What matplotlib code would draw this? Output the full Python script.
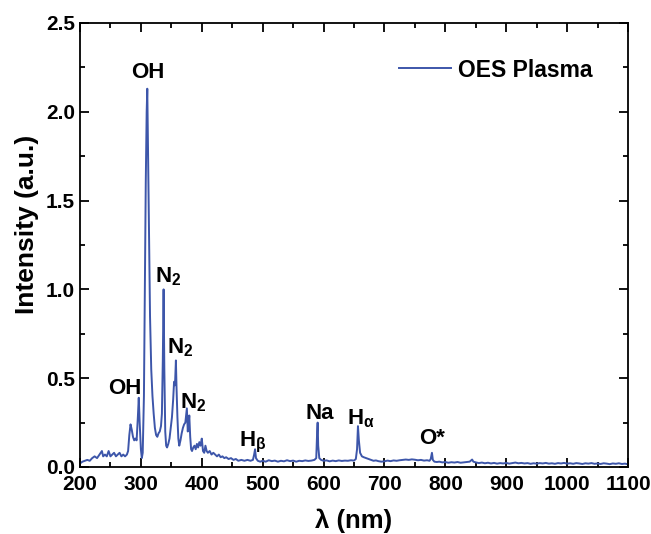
import matplotlib
matplotlib.use("Agg")
import matplotlib.pyplot as plt
from matplotlib.ticker import MultipleLocator

plt.rcParams['font.family'] = ['Liberation Sans', 'DejaVu Sans']
plt.rcParams['font.weight'] = 'bold'
plt.rcParams['mathtext.fontset'] = 'custom'
plt.rcParams['mathtext.rm'] = 'Liberation Sans:bold'
plt.rcParams['mathtext.bf'] = 'Liberation Sans:bold'
plt.rcParams['mathtext.it'] = 'Liberation Sans:bold'

wavelength = [
    200, 204, 208, 212, 216, 220, 224, 228, 232, 236, 238, 241, 244, 247, 250, 253, 256, 259, 262, 265,
    268, 271, 274, 277, 279, 281, 283, 285, 287, 289, 291, 293, 295, 296.5, 298, 300, 301.5, 303, 305, 306.5,
    308, 309.5, 310.5, 311.5, 312.5, 313.5, 315, 317, 319, 321, 323, 325, 327, 329, 331, 333, 334.5, 336, 337.3, 338.5,
    340, 341.5, 343, 345, 347, 349, 351, 353, 354.5, 356, 357.5, 358.5, 360, 361.5, 363, 365, 367, 369, 371, 373,
    374.5, 375.5, 377, 378.5, 379.5, 381, 382.5, 384, 386, 388, 390, 392, 394, 396, 398, 400, 402, 404, 406, 408,
    410, 413, 416, 419, 422, 425, 428, 431, 434, 437, 440, 444, 448, 452, 456, 460, 465, 470, 475, 480,
    484, 486, 487.5, 489, 492, 496, 500, 505, 510, 515, 520, 525, 530, 535, 540, 545, 550, 555, 560, 565,
    570, 575, 580, 585, 588, 589.5, 590.3, 591.2, 593, 596, 600, 605, 610, 615, 620, 625, 630, 635, 640, 645,
    650, 653, 655, 656.5, 658, 660, 663, 666, 670, 674, 678, 682, 686, 690, 695, 700, 705, 710, 715, 720,
    725, 730, 735, 740, 745, 750, 755, 760, 765, 770, 774, 776, 778, 779.5, 782, 786, 790, 795, 800, 805,
    810, 815, 820, 825, 830, 835, 840, 844, 846, 850, 855, 860, 865, 870, 875, 880, 885, 890, 895, 900,
    905, 910, 915, 920, 925, 930, 935, 940, 945, 950, 955, 960, 965, 970, 975, 980, 985, 990, 995, 1000,
    1005, 1010, 1015, 1020, 1025, 1030, 1035, 1040, 1045, 1050, 1055, 1060, 1065, 1070, 1075, 1080, 1085, 1090, 1095, 1100,
]
intensity = [
    0.02, 0.03, 0.035, 0.04, 0.035, 0.05, 0.06, 0.05, 0.07, 0.09, 0.06, 0.07, 0.06, 0.09, 0.06, 0.07, 0.08, 0.06, 0.07, 0.08,
    0.06, 0.07, 0.06, 0.07, 0.09, 0.18, 0.24, 0.21, 0.17, 0.15, 0.16, 0.15, 0.28, 0.39, 0.25, 0.10, 0.05, 0.08, 0.40, 1.00,
    1.60, 2.00, 2.13, 1.85, 1.55, 1.30, 0.85, 0.55, 0.40, 0.30, 0.22, 0.18, 0.17, 0.19, 0.20, 0.23, 0.30, 0.60, 1.00, 0.55,
    0.20, 0.12, 0.11, 0.13, 0.16, 0.22, 0.28, 0.38, 0.48, 0.46, 0.60, 0.45, 0.28, 0.16, 0.12, 0.15, 0.19, 0.22, 0.24, 0.25,
    0.30, 0.33, 0.20, 0.25, 0.29, 0.17, 0.10, 0.09, 0.11, 0.12, 0.10, 0.13, 0.11, 0.14, 0.12, 0.16, 0.09, 0.08, 0.12, 0.09,
    0.08, 0.09, 0.07, 0.08, 0.07, 0.06, 0.07, 0.055, 0.06, 0.05, 0.055, 0.045, 0.05, 0.04, 0.045, 0.035, 0.04, 0.035, 0.04, 0.035,
    0.04, 0.07, 0.10, 0.05, 0.035, 0.03, 0.035, 0.03, 0.038, 0.033, 0.036, 0.03, 0.035, 0.032, 0.038, 0.033, 0.036, 0.03, 0.035, 0.033,
    0.037, 0.034, 0.036, 0.04, 0.05, 0.20, 0.25, 0.12, 0.05, 0.04, 0.035, 0.037, 0.032, 0.036, 0.033, 0.037, 0.034, 0.036, 0.035, 0.038,
    0.036, 0.045, 0.10, 0.23, 0.15, 0.08, 0.06, 0.055, 0.05, 0.045, 0.04, 0.035, 0.037, 0.033, 0.03, 0.032, 0.036, 0.033, 0.037, 0.035,
    0.038, 0.04, 0.042, 0.04, 0.043, 0.041, 0.038, 0.04, 0.036, 0.038, 0.035, 0.045, 0.08, 0.04, 0.03, 0.028, 0.03, 0.026, 0.028, 0.024,
    0.027, 0.025, 0.028, 0.024, 0.026, 0.028, 0.03, 0.042, 0.03, 0.026, 0.022, 0.025, 0.021, 0.024, 0.02, 0.023, 0.019, 0.022, 0.02, 0.023,
    0.019, 0.022, 0.025, 0.021, 0.023, 0.02, 0.022, 0.018, 0.021, 0.019, 0.022, 0.02, 0.023, 0.019, 0.021, 0.018, 0.022, 0.02, 0.023, 0.019,
    0.021, 0.018, 0.022, 0.02, 0.017, 0.021, 0.019, 0.022, 0.018, 0.02, 0.017, 0.021, 0.019, 0.016, 0.02, 0.018, 0.021, 0.017, 0.019, 0.015,
]

peak_labels = ["OH", "N$_\\mathbf{2}$", "N$_\\mathbf{2}$", "N$_\\mathbf{2}$", "OH", "H$_\\mathbf{β}$", "Na", "H$_\\mathbf{α}$", "O*"]
label_x = [311.5, 344, 365, 386, 274, 484, 594, 661, 779]
label_y = [2.22, 1.07, 0.67, 0.36, 0.44, 0.14, 0.30, 0.27, 0.16]

fig = plt.figure(figsize=(6.51, 5.34), dpi=100)
ax = fig.add_axes([80 / 651, 1 - 467 / 534, 548 / 651, 444 / 534])
ax.plot(wavelength, intensity, color='#3d56aa', lw=1.4, label='OES Plasma')

for t, x, y in zip(peak_labels, label_x, label_y):
    ax.text(x, y, t, ha='center', va='center', fontsize=16, fontweight='bold')

ax.set_xlim(200, 1100)
ax.set_ylim(0, 2.5)
ax.xaxis.set_major_locator(MultipleLocator(100))
ax.xaxis.set_minor_locator(MultipleLocator(50))
ax.yaxis.set_major_locator(MultipleLocator(0.5))
ax.yaxis.set_minor_locator(MultipleLocator(0.25))
ax.yaxis.set_major_formatter(plt.FormatStrFormatter('%.1f'))
ax.tick_params(which='both', direction='in', top=True, right=True, labelsize=15, width=1.3)
ax.tick_params(which='major', length=6.5)
ax.tick_params(which='minor', length=3.6)
ax.tick_params(axis='x', which='major', pad=6)
for lab in ax.get_xticklabels() + ax.get_yticklabels():
    lab.set_fontweight('bold')
for s in ax.spines.values():
    s.set_linewidth(1.3)

ax.set_xlabel('λ (nm)', fontsize=18.5, fontweight='bold', labelpad=10)
ax.set_ylabel('Intensity (a.u.)', fontsize=19, fontweight='bold', labelpad=5)
ax.yaxis.label.set_y(0.547)
ax.legend(loc='upper right', frameon=False, prop={'size': 16.5, 'weight': 'bold'},
          handlelength=2.26, handletextpad=0.3, borderaxespad=1.15)

fig.savefig('out.png', dpi=100)
